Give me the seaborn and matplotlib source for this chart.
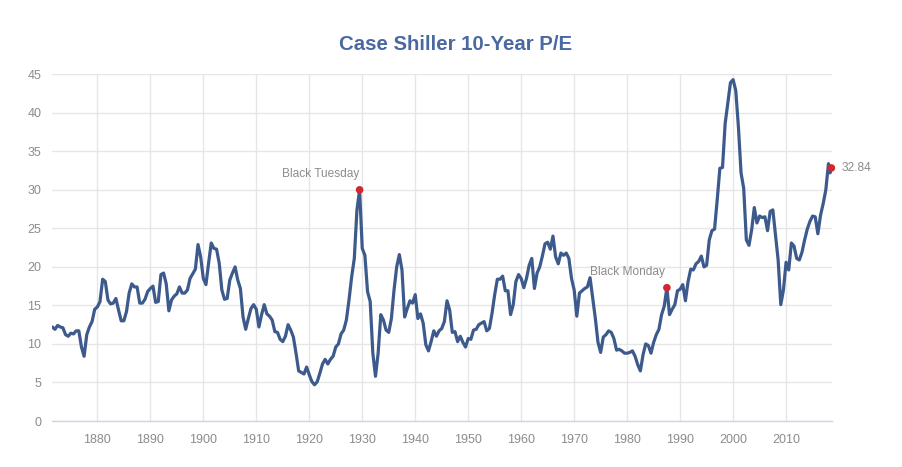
import numpy as np
import pandas as pd
import matplotlib
matplotlib.use("Agg")
import matplotlib.pyplot as plt
import seaborn as sns

# half-year observations of the Shiller CAPE, 1871.5 .. 2018.0, then the last two readings
cape = [
    12.2, 11.9, 12.4, 12.2, 12.1, 11.2, 11.0, 11.4, 11.3, 11.7, 11.7, 9.6, 8.4, 11.2, 12.2, 12.9, 14.5,   # 1871.5-1879.5
    14.8, 15.5, 18.4, 18.1, 15.7, 15.2, 15.3, 15.9, 14.4, 13.0, 13.0, 14.2, 16.6, 17.8, 17.4, 17.4, 15.3, 15.3, 15.8, 16.8,  # 1880s
    17.2, 17.5, 15.4, 15.5, 19.0, 19.2, 17.8, 14.3, 15.7, 16.2, 16.5, 17.4, 16.6, 16.6, 17.0, 18.5, 19.1, 19.7, 22.9, 21.3,  # 1890s
    18.5, 17.7, 20.5, 23.1, 22.4, 22.3, 20.5, 17.0, 15.8, 15.9, 18.3, 19.2, 20.0, 18.3, 17.2, 13.5, 11.9, 13.3, 14.6, 15.1,  # 1900s
    14.5, 12.2, 13.8, 15.1, 13.9, 13.6, 13.1, 11.6, 11.5, 10.6, 10.3, 11.0, 12.5, 11.8, 10.9, 8.8, 6.5, 6.3, 6.1, 7.0,  # 1910s
    6.0, 5.1, 4.7, 5.1, 6.2, 7.4, 8.0, 7.4, 8.0, 8.4, 9.6, 10.0, 11.3, 11.8, 13.1, 15.7, 18.7, 21.1, 27.4, 30.0,  # 1920s
    22.4, 21.5, 16.8, 15.5, 8.8, 5.8, 8.8, 13.8, 13.1, 11.8, 11.5, 13.3, 17.0, 20.0, 21.6, 19.6, 13.5, 14.6, 15.6, 15.3,  # 1930s
    16.4, 13.3, 13.9, 12.7, 9.9, 9.1, 10.3, 11.7, 11.0, 11.7, 12.0, 12.9, 15.6, 14.4, 11.5, 11.6, 10.3, 11.0, 10.2, 9.6,  # 1940s
    10.7, 10.6, 11.8, 11.9, 12.5, 12.7, 12.9, 11.7, 12.0, 14.0, 16.4, 18.4, 18.4, 18.8, 16.9, 16.9, 13.8, 15.1, 18.1, 19.0,  # 1950s
    18.5, 17.3, 18.5, 20.2, 21.1, 17.2, 19.2, 20.0, 21.4, 23.0, 23.2, 22.3, 24.0, 21.3, 20.4, 21.8, 21.5, 21.8, 21.1, 18.5,  # 1960s
    17.0, 13.6, 16.6, 16.9, 17.2, 17.4, 18.6, 15.9, 13.3, 10.2, 8.9, 10.9, 11.2, 11.7, 11.5, 10.7, 9.2, 9.3, 9.1, 8.8,  # 1970s
    8.8, 8.9, 9.1, 8.4, 7.3, 6.5, 8.6, 10.0, 9.8, 8.8, 10.2, 11.2, 11.9, 13.8, 14.9, 17.3, 13.8, 14.5, 15.1, 16.9,  # 1980s
    17.1, 17.7, 15.6, 18.1, 19.7, 19.6, 20.4, 20.7, 21.4, 20.0, 20.2, 23.5, 24.7, 24.9, 28.7, 32.8, 32.9, 38.6, 41.2, 43.9,  # 1990s
    44.3, 42.9, 38.2, 32.2, 30.2, 23.5, 22.8, 24.8, 27.7, 25.7, 26.6, 26.4, 26.5, 24.7, 27.2, 27.4, 24.1, 20.9, 15.1, 17.0,  # 2000s
    20.6, 19.6, 23.1, 22.7, 21.1, 20.9, 21.9, 23.5, 24.9, 25.9, 26.6, 26.5, 24.3, 26.7, 28.2, 30.0,  # 2010-2017.5
    33.4, 32.2, 32.84,  # 2018, 2018.3, 2018.55
]
years = list(np.arange(1871.5, 2018.01, 0.5)) + [2018.3, 2018.55]

event_years = [1929.5, 1987.5, 2018.55]
event_values = [30.0, 17.3, 32.84]
event_labels = ["Black Tuesday", "Black Monday", "32.84"]

df = pd.DataFrame({"year": years, "pe": cape})
events = pd.DataFrame({"year": event_years, "pe": event_values, "label": event_labels})

sns.set_style("white")
plt.rcParams["font.family"] = ["Liberation Sans", "DejaVu Sans"]

fig = plt.figure(figsize=(9.02, 4.67), dpi=100)
ax = fig.add_axes([0.058, 0.0985, 0.864, 0.7425])

sns.lineplot(data=df, x="year", y="pe", ax=ax, color="#3d5a8c", linewidth=2.3)
pts = sns.scatterplot(data=events, x="year", y="pe", ax=ax, color="#d0282e", s=30,
                      edgecolor="none", zorder=5)
for coll in ax.collections:
    coll.set_clip_on(False)

for _, r in events.iterrows():
    if r["label"] == "32.84":
        ax.annotate(r["label"], (r["year"], r["pe"]), xytext=(7, 0), textcoords="offset points",
                    ha="left", va="center", fontsize=8.6, color="#8c8c8c")
    else:
        ax.annotate(r["label"], (r["year"], r["pe"]), xytext=(-28, 7), textcoords="offset points",
                    ha="center", va="bottom", fontsize=8.6, color="#8c8c8c")

ax.set_xlim(1871.5, 2018.6)
ax.set_ylim(0, 45)
ax.set_xticks(range(1880, 2011, 10))
ax.set_yticks(range(0, 46, 5))
ax.grid(True, color="#e6e6e6", linewidth=1)
ax.set_axisbelow(True)
for side in ["top", "right", "left"]:
    ax.spines[side].set_visible(False)
ax.spines["bottom"].set_color("#ccd6eb")
ax.spines["bottom"].set_linewidth(1)
ax.tick_params(axis="both", length=0, labelsize=9, labelcolor="#8c8c8c")
ax.tick_params(axis="x", pad=9)
ax.tick_params(axis="y", pad=8)
ax.set_xlabel("")
ax.set_ylabel("")

fig.suptitle("Case Shiller 10-Year P/E", x=0.505, y=0.904, va="center", fontsize=14.7,
             fontweight="bold", color="#4a69a3")

fig.savefig("out.png", dpi=100)
